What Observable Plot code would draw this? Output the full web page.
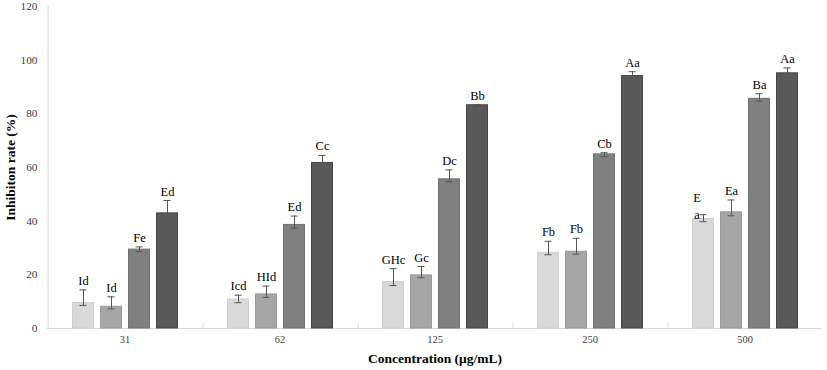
<!DOCTYPE html>
<html><head><meta charset="utf-8">
<script src="https://cdn.jsdelivr.net/npm/d3@7"></script>
<script src="https://cdn.jsdelivr.net/npm/@observablehq/plot@0.6"></script>
<style>
body{margin:0;background:#fff}
#chart svg{display:block}
#chart svg text{font-family:'Liberation Serif','Times New Roman',serif}
g[aria-label="y-axis label"] text, g[aria-label="fx-axis label"] text{font-weight:bold;fill:#000;font-size:13.5px}
</style>
</head><body><div id="chart"></div>
<script>
const concentrations = ["31", "62", "125", "250", "500"];
const series = ["Sample 1", "Sample 2", "Sample 3", "Sample 4"];
const yTicks = [0, 20, 40, 60, 80, 100, 120];

const values1 = [9.5, 10.8, 17.3, 28.2, 40.8];
const values2 = [8.1, 12.7, 19.8, 28.6, 43.3];
const values3 = [29.4, 38.6, 55.6, 64.9, 85.6];
const values4 = [42.9, 61.7, 83.2, 94.1, 95.1];

const high1 = [14.4, 12.4, 22.3, 32.5, 42.4];
const high2 = [11.8, 15.8, 23.1, 33.6, 47.9];
const high3 = [30.4, 41.9, 59.1, 65.5, 87.5];
const high4 = [47.7, 64.5, 83.4, 95.7, 97.1];

const low1 = [8.6, 9.6, 16.0, 27.5, 39.8];
const low2 = [7.3, 11.6, 18.9, 27.7, 42.0];
const low3 = [28.7, 37.4, 54.7, 64.0, 84.7];
const low4 = [42.9, 61.7, 83.0, 94.1, 95.1];

const labels1 = ["Id", "Icd", "GHc", "Fb", "E\na"];
const labels2 = ["Id", "HId", "Gc", "Fb", "Ea"];
const labels3 = ["Fe", "Ed", "Dc", "Cb", "Ba"];
const labels4 = ["Ed", "Cc", "Bb", "Aa", "Aa"];

const fills = ["#d9d9d9", "#a6a6a6", "#808080", "#595959"];
const strokes = ["#cfcfcf", "#999999", "#727272", "#454545"];

const values = [values1, values2, values3, values4];
const highs = [high1, high2, high3, high4];
const lows = [low1, low2, low3, low4];
const labels = [labels1, labels2, labels3, labels4];

const rows = [];
series.forEach((s, si) => concentrations.forEach((c, ci) => rows.push({
  conc: c, series: s, si,
  value: values[si][ci], hi: highs[si][ci], lo: lows[si][ci], label: labels[si][ci]
})));

const W = 827, H = 370, ML = 45, MR = 4;
const PI = 0.22, PO = 0.865;
const facetW = (W - ML - MR) / concentrations.length;
const step = facetW / (series.length - PI + 2 * PO);
const edgeDx = -(PO * step + (1 - PI) * step / 2);
const bw = step * (1 - PI);
const capInset = (bw - 7) / 2;

const plot = Plot.plot({
  width: W, height: H,
  marginLeft: ML, marginRight: MR, marginTop: 6, marginBottom: 42,
  style: {fontFamily: "'Liberation Serif', 'Times New Roman', serif", background: "#fff", color: "#000"},
  fx: {domain: concentrations, padding: 0, label: "Concentration (μg/mL)"},
  x: {domain: series, paddingInner: PI, paddingOuter: PO, axis: null},
  y: {domain: [0, 120]},
  color: {type: "identity"},
  marks: [
    Plot.axisFx({anchor: "bottom", tickSize: 0, tickPadding: 7, fontSize: 10.5, fill: "#404040",
      label: "Concentration (μg/mL)", labelAnchor: "center", labelArrow: "none", labelOffset: 34}),
    Plot.axisY({ticks: yTicks, tickSize: 0, tickPadding: 10, fontSize: 11.3, fill: "#404040",
      label: "Inhibiton rate (%)", labelAnchor: "center", labelArrow: "none", labelOffset: 42}),
    Plot.ruleY([0], {stroke: "#d9d9d9"}),
    Plot.ruleX(concentrations, {fx: d => d, x: () => series[0], dx: edgeDx,
      y1: 0, y2: (d, i) => i === 0 ? yTicks[yTicks.length - 1] : 1.9, stroke: "#d9d9d9"}),
    Plot.barY(rows, {fx: "conc", x: "series", y: "value",
      fill: d => fills[d.si], stroke: d => strokes[d.si], strokeWidth: 1, insetLeft: 0.5, insetRight: 0.5}),
    Plot.ruleX(rows, {fx: "conc", x: "series", y1: "lo", y2: "hi", stroke: "#555", strokeWidth: 1}),
    Plot.tickY(rows, {fx: "conc", x: "series", y: "hi", stroke: "#555", insetLeft: capInset, insetRight: capInset}),
    Plot.tickY(rows, {fx: "conc", x: "series", y: "lo", stroke: "#555", insetLeft: capInset, insetRight: capInset}),
    Plot.text(rows.filter(d => !d.label.includes("\n")), {fx: "conc", x: "series", y: "hi", text: "label",
      lineAnchor: "bottom", dy: -5, fontSize: 12.5, fill: "#000"}),
    Plot.text(rows.filter(d => d.label.includes("\n")), {fx: "conc", x: "series", y: "value", text: "label",
      lineAnchor: "bottom", dx: -6.5, dy: 0, lineHeight: 1.36, fontSize: 12.5, fill: "#000"})
  ]
});
document.getElementById("chart").appendChild(plot);
</script>
</body></html>
